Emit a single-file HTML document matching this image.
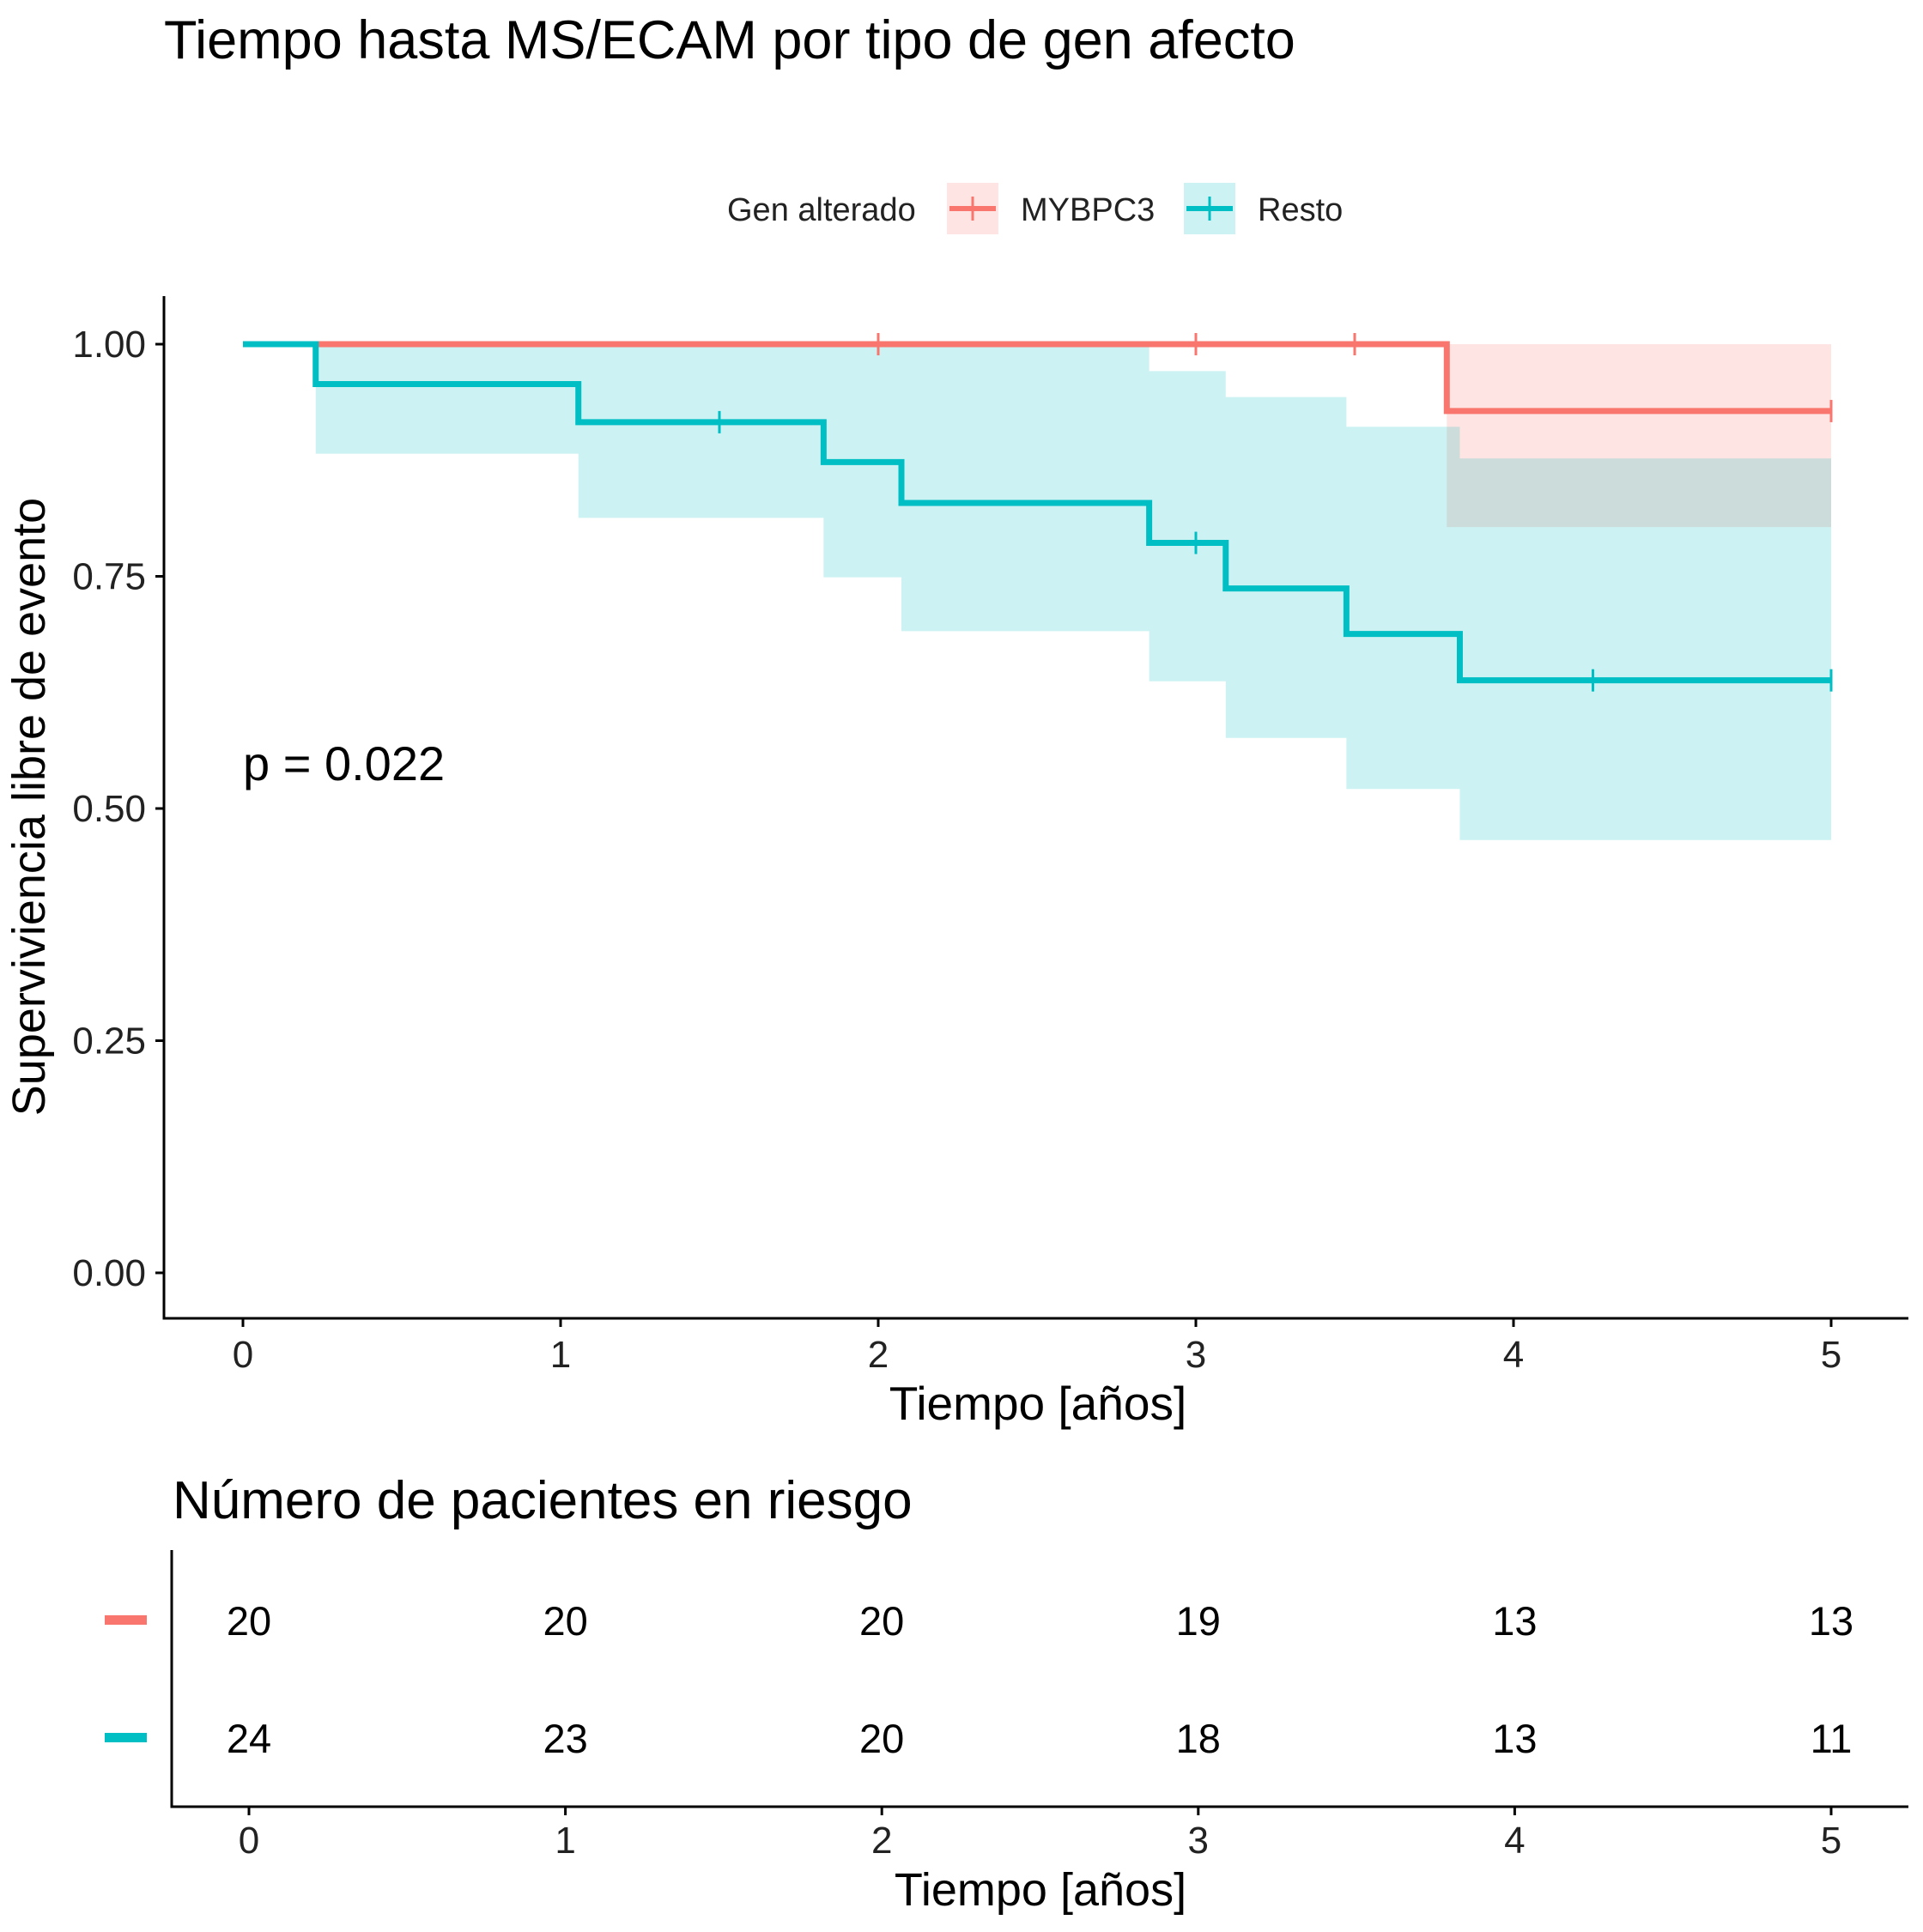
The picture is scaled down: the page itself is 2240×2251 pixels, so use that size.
<!DOCTYPE html>
<html><head><meta charset="utf-8"><style>
html,body{margin:0;padding:0;background:#fff;}
svg{display:block;font-family:"Liberation Sans",sans-serif;}
</style></head><body>
<svg id="c" width="2240" height="2251" viewBox="0 0 2240 2251">
<text x="191" y="68" font-size="63" fill="#000">Tiempo hasta  MS/ECAM por tipo de  gen afecto</text>
<g>
<text x="847" y="257" font-size="38" fill="#222">Gen alterado</text>
<rect x="1103" y="213" width="60" height="60" fill="#F8766D" fill-opacity="0.2"/>
<line x1="1106" y1="243" x2="1160" y2="243" stroke="#F8766D" stroke-width="6"/>
<line x1="1133" y1="229" x2="1133" y2="257" stroke="#F8766D" stroke-width="3"/>
<text x="1189" y="257" font-size="38" fill="#222">MYBPC3</text>
<rect x="1379" y="213" width="60" height="60" fill="#00BFC4" fill-opacity="0.2"/>
<line x1="1382" y1="243" x2="1436" y2="243" stroke="#00BFC4" stroke-width="6"/>
<line x1="1409" y1="229" x2="1409" y2="257" stroke="#00BFC4" stroke-width="3"/>
<text x="1465" y="257" font-size="38" fill="#222">Resto</text>
</g>
<g id="plot"></g>
<text x="283" y="909" font-size="56" fill="#000">p = 0.022</text>
<text transform="translate(52,940) rotate(-90)" text-anchor="middle" font-size="54" fill="#000">Superviviencia libre de evento</text>
<text x="1209" y="1654" text-anchor="middle" font-size="55" fill="#000">Tiempo [años]</text>
<text x="201" y="1769" font-size="62" fill="#000">Número de pacientes en riesgo</text>
<g id="risk"></g>
<text x="1212" y="2220" text-anchor="middle" font-size="54" fill="#000">Tiempo [años]</text>
</svg>
<script>
const xTicks=[0,1,2,3,4,5];
const yTicks=[0,0.25,0.5,0.75,1];
const yTickLabels=["0.00","0.25","0.50","0.75","1.00"];
const mybTimes=[0,3.79,5];
const mybSurv=[1,0.928,0.928];
const mybLower=[1,0.803,0.803];
const mybUpper=[1,1,1];
const mybCensor=[2,3,3.5,5];
const restoTimes=[0,0.229,1.056,1.828,2.073,2.853,3.094,3.474,3.831,5];
const restoSurv=[1,0.957,0.916,0.873,0.829,0.786,0.737,0.688,0.638,0.638];
const restoLower=[1,0.882,0.813,0.749,0.691,0.637,0.576,0.521,0.466,0.466];
const restoUpper=[1,1,1,1,1,0.971,0.943,0.911,0.877,0.877];
const restoCensor=[1.5,3,4.25,5];
const riskMyb=[20,20,20,19,13,13];
const riskResto=[24,23,20,18,13,11];
const NS='http://www.w3.org/2000/svg';
const X=t=>283+t*370, Y=v=>1483-v*1082;
const RX=t=>290+t*368.6;
function el(tag,attrs,parent){const e=document.createElementNS(NS,tag);for(const k in attrs)e.setAttribute(k,attrs[k]);parent.appendChild(e);return e;}
const plot=document.getElementById('plot');
function band(times,lo,hi,color,name){
  let up='',dn='';
  for(let i=0;i<times.length-1;i++){up+=`${X(times[i])},${Y(hi[i])} ${X(times[i+1])},${Y(hi[i])} `;}
  for(let i=times.length-2;i>=0;i--){dn+=`${X(times[i+1])},${Y(lo[i])} ${X(times[i])},${Y(lo[i])} `;}
  const p=el('polygon',{points:up+dn,fill:color,'fill-opacity':0.2},plot);
  
  
}
function step(times,s,color,name){
  let d=`M${X(times[0])},${Y(s[0])}`;
  for(let i=1;i<times.length;i++){d+=` H${X(times[i])} V${Y(s[i])}`;}
  const p=el('path',{d:d,fill:'none',stroke:color,'stroke-width':7},plot);
  
  
}
function survAt(times,s,t){let v=s[0];for(let i=0;i<times.length;i++){if(times[i]<=t)v=s[i];}return v;}
function censor(cs,times,s,color,name){
  cs.forEach(t=>{const v=survAt(times,s,t);
    const l=el('line',{x1:X(t),x2:X(t),y1:Y(v)-13,y2:Y(v)+13,stroke:color,'stroke-width':3},plot);
    
    });
}
band(mybTimes.slice(1),mybLower.slice(1),mybUpper.slice(1),'#F8766D','mybpc3-ci-band');
band(restoTimes,restoLower,restoUpper,'#00BFC4','resto-ci-band');
step(mybTimes,mybSurv,'#F8766D','mybpc3-curve');
step(restoTimes,restoSurv,'#00BFC4','resto-curve');
censor(mybCensor,mybTimes,mybSurv,'#F8766D','mybpc3-censor-mark');
censor(restoCensor,restoTimes,restoSurv,'#00BFC4','resto-censor-mark');
const ax=el('path',{d:'M191,345 V1536 H2223',fill:'none',stroke:'#000','stroke-width':3},plot);


yTicks.forEach((v,i)=>{
  el('line',{x1:181,x2:191,y1:Y(v),y2:Y(v),stroke:'#000','stroke-width':3},plot);
  const t=el('text',{x:170,y:Y(v)+15,'text-anchor':'end','font-size':44,fill:'#222'},plot);
  t.textContent=yTickLabels[i];
  
  
});
xTicks.forEach(v=>{
  el('line',{x1:X(v),x2:X(v),y1:1536,y2:1546,stroke:'#000','stroke-width':3},plot);
  const t=el('text',{x:X(v),y:1593,'text-anchor':'middle','font-size':44,fill:'#222'},plot);
  t.textContent=v;
  
  
});
const risk=document.getElementById('risk');
const ra=el('path',{d:'M200,1806 V2105 H2223',fill:'none',stroke:'#000','stroke-width':3},risk);


const k1=el('rect',{x:122,y:1882,width:49,height:11,fill:'#F8766D'},risk);


const k2=el('rect',{x:122,y:2019,width:49,height:11,fill:'#00BFC4'},risk);


function riskRow(vals,y,name){vals.forEach((v,i)=>{
  const t=el('text',{x:RX(xTicks[i]),y:y,'text-anchor':'middle','font-size':47,fill:'#000'},risk);
  t.textContent=v;
  
  });}
riskRow(riskMyb,1905,'risk-count-mybpc3');
riskRow(riskResto,2042,'risk-count-resto');
xTicks.forEach(v=>{
  el('line',{x1:RX(v),x2:RX(v),y1:2105,y2:2115,stroke:'#000','stroke-width':3},risk);
  const t=el('text',{x:RX(v),y:2159,'text-anchor':'middle','font-size':44,fill:'#222'},risk);
  t.textContent=v;
  
  
});
</script>
</body></html>
